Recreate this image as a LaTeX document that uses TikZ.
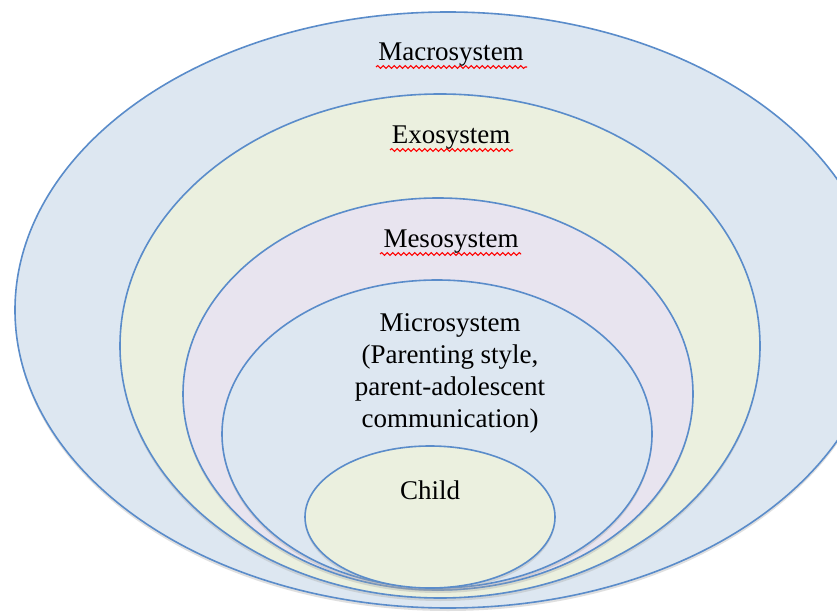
\documentclass[tikz,border=0pt]{standalone}
\usepackage{fontspec}
\setmainfont{Liberation Serif}
\usetikzlibrary{shapes.geometric,decorations.pathmorphing}
\definecolor{rim}{RGB}{90,140,202}
\definecolor{macfill}{RGB}{221,231,241}
\definecolor{exofill}{RGB}{235,240,223}
\definecolor{mesofill}{RGB}{232,228,239}
\definecolor{micfill}{RGB}{221,231,241}
\definecolor{childfill}{RGB}{235,240,223}
\tikzset{
  ring/.style={ellipse, draw=rim, line width=1.6pt, inner sep=0pt},
  shade/.style={ellipse, fill=black!35, opacity=0.35, inner sep=0pt},
  lbl/.style={font=\fontsize{27}{32}\selectfont, align=center, inner sep=0pt},
  squig/.style={draw=red, line width=1.1pt, decorate, decoration={snake, amplitude=1.4pt, segment length=5.5pt}}
}
\begin{document}
\begin{tikzpicture}[x=1pt,y=-1pt]
\useasboundingbox (0,0) rectangle (837,612);
\fill[white] (0,0) rectangle (837,612);
\clip (0,0) rectangle (837,612);
\node[shade, minimum width=866, minimum height=596] at (448,313) {};
\node[ring, fill=macfill, minimum width=866, minimum height=596] (mac) at (448,310) {};
\node[shade, minimum width=640, minimum height=504] at (440,349) {};
\node[ring, fill=exofill, minimum width=640, minimum height=504] (exo) at (440,346) {};
\node[shade, minimum width=510, minimum height=392] at (438,397) {};
\node[ring, fill=mesofill, minimum width=510, minimum height=392] (meso) at (438,394) {};
\node[shade, minimum width=430, minimum height=308] at (437,437) {};
\node[ring, fill=micfill, minimum width=430, minimum height=308] (micro) at (437,434) {};
\node[shade, minimum width=250, minimum height=142] at (430,520) {};
\node[ring, fill=childfill, minimum width=250, minimum height=142] (child) at (430,517) {};
\node[lbl] (tmac) at (451,55) {Macrosystem};
\node[lbl] (texo) at (451,138) {Exosystem};
\node[lbl] (tmeso) at (451,242) {Mesosystem};
\node[lbl] (tmicro) at (450,373) {Microsystem\\(Parenting style,\\parent-adolescent\\communication)};
\node[lbl] (tchild) at (430,490) {Child};
\draw[squig] (376,67) -- (527,67);
\draw[squig] (390,150) -- (513,150);
\draw[squig] (380,254) -- (521,254);
\end{tikzpicture}
\end{document}
